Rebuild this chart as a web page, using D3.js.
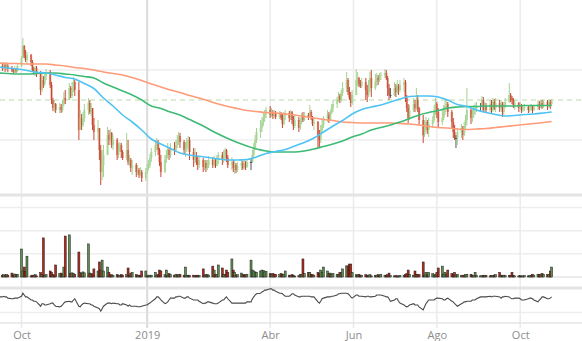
<!DOCTYPE html>
<html>
<head>
<meta charset="utf-8">
<script src="https://cdn.jsdelivr.net/npm/d3@7"></script>
<style>
  body { margin: 0; background: #fff; }
  svg { display: block; font-family: "Open Sans", "DejaVu Sans", sans-serif; }
</style>
</head>
<body>
<svg id="chart" width="582" height="341"></svg>
<script>
/*******************
 * DATA
 *******************/

// first session, one value per trading day after it (weekdays)
var firstDay = new Date(2018, 8, 14);
var firstOpen = 18.2;

var closes = [
  18.4,
  18.3, 18.5, 18.2, 18.4, 18.2,
  18.0, 17.8, 18.1, 17.9, 18.4,
  19.2, 20.4, 19.5, 19.0, 19.5,
  18.8, 18.0, 17.8, 18.2, 17.7,
  16.0, 17.0, 16.6, 17.4, 17.8,
  16.5, 15.0, 14.2, 14.6, 14.0,
  14.3, 14.0, 14.6, 15.2, 15.0,
  16.2, 15.4, 16.0, 16.8, 16.0,
  12.0, 13.2, 12.5, 13.2, 14.0,
  14.7, 13.8, 14.2, 12.5, 11.8,
  12.2, 10.0, 7.8, 8.5, 9.5,
  11.5, 11.0, 11.7, 10.5, 11.0,
  9.5, 10.0, 10.5, 9.8, 9.2,
  10.0, 8.8, 9.0, 8.2, 8.5,
  7.8, 8.0, 7.5, 7.8, 7.2,
  7.8, 8.2, 8.5, 9.2, 9.8,
  10.5, 10.8, 10.0, 8.8, 7.8,
  9.0, 9.5, 10.0, 9.5, 10.2,
  10.0, 10.5, 11.0, 11.4, 10.8,
  10.0, 10.2, 10.8, 11.0, 9.8,
  9.0, 9.5, 8.8, 8.5, 9.0,
  8.3, 8.7, 8.2, 8.5, 9.0,
  8.5, 9.0, 8.4, 9.0, 9.5,
  9.0, 9.5, 10.0, 9.2, 8.5,
  8.8, 8.2, 8.5, 8.0, 8.4,
  8.7, 8.2, 8.6, 8.3, 8.8,
  8.8, 9.5, 10.2, 11.0, 11.8,
  12.2, 12.8, 13.2, 13.6, 14.0,
  13.5, 13.8, 13.4, 13.7, 13.3,
  13.6, 13.2, 12.6, 13.4, 13.7,
  13.2, 13.8, 13.0, 12.4, 13.0,
  12.2, 12.8, 13.4, 13.0, 13.5,
  13.2, 13.8, 13.2, 12.6, 12.8,
  11.5, 11.0, 12.0, 12.5, 13.2,
  13.5, 13.0, 13.7, 14.2, 14.6,
  15.0, 15.4, 15.0, 15.7, 16.2,
  17.0, 15.8, 15.2, 14.7, 15.5,
  17.0, 17.2, 16.6, 16.4, 16.8,
  16.0, 15.5, 16.5, 17.2, 16.2,
  16.8, 17.2, 17.0, 17.4, 17.5,
  17.7, 17.2, 16.2, 15.5, 15.5,
  16.2, 15.8, 16.4, 16.0, 16.5,
  16.8, 15.2, 14.2, 13.2, 14.0,
  14.6, 14.2, 15.0, 14.2, 13.0,
  11.5, 12.2, 12.8, 12.0, 12.6,
  13.0, 13.8, 14.6, 13.8, 12.8,
  13.2, 13.8, 14.4, 14.6, 13.8,
  12.8, 11.8, 11.2, 11.2, 11.8,
  12.2, 11.5, 12.4, 13.0, 14.0,
  13.2, 13.6, 14.0, 14.2, 14.4,
  14.4, 15.0, 14.0, 14.4, 14.0,
  14.6, 14.0, 14.8, 14.2, 14.7,
  14.2, 14.6, 13.8, 14.4, 14.8,
  15.5, 15.2, 15.0, 14.5, 14.7,
  14.2, 14.5, 14.0, 14.2, 14.3,
  14.0, 14.2, 14.4, 14.0, 14.3,
  14.6, 14.2, 14.7, 14.4, 14.8,
  14.4, 14.8, 14.6, 14.9
];

var highs = [
  18.8,
  18.7, 18.8, 18.6, 18.8, 18.6,
  18.4, 18.2, 18.4, 18.2, 18.7,
  19.4, 21.2, 20.5, 20.0, 19.8,
  19.6, 19.0, 18.3, 18.4, 18.4,
  17.9, 17.6, 17.4, 17.8, 18.1,
  18.0, 16.8, 15.2, 15.0, 14.7,
  14.7, 14.6, 15.0, 15.8, 16.0,
  16.7, 16.4, 16.8, 17.3, 17.0,
  16.8, 14.0, 13.6, 13.8, 14.6,
  15.2, 15.0, 14.7, 14.0, 13.2,
  13.0, 12.2, 10.5, 10.0, 10.5,
  12.3, 12.0, 12.1, 11.8, 11.5,
  11.2, 10.7, 10.8, 10.7, 10.0,
  11.7, 11.0, 9.5, 9.2, 9.0,
  8.7, 8.5, 8.2, 8.3, 8.0,
  8.2, 8.6, 9.0, 9.6, 10.2,
  11.0, 11.2, 11.0, 10.2, 9.5,
  9.5, 10.0, 10.7, 10.3, 10.7,
  10.8, 11.0, 11.5, 11.8, 11.7,
  11.0, 10.8, 11.2, 11.4, 11.3,
  10.2, 10.2, 9.8, 9.3, 9.4,
  9.2, 9.0, 9.0, 9.0, 9.4,
  9.3, 9.4, 9.2, 9.5, 9.8,
  9.8, 10.0, 10.2, 10.1, 9.5,
  9.3, 9.0, 9.0, 8.7, 8.8,
  9.0, 8.9, 9.0, 8.9, 9.1,
  9.2, 10.0, 10.7, 11.5, 12.2,
  13.0, 13.3, 13.7, 14.0, 14.3,
  14.4, 14.2, 14.0, 14.0, 13.9,
  13.9, 13.8, 13.6, 13.8, 14.0,
  13.9, 14.0, 13.9, 13.4, 13.5,
  13.3, 13.2, 13.7, 13.8, 13.8,
  13.7, 14.5, 14.0, 13.4, 13.3,
  12.9, 12.0, 12.5, 13.0, 13.4,
  14.0, 13.8, 14.0, 14.6, 15.0,
  15.3, 15.8, 15.6, 16.0, 16.8,
  17.8, 17.2, 16.3, 15.8, 16.0,
  18.1, 17.8, 17.3, 17.0, 17.2,
  17.2, 16.5, 17.0, 17.8, 18.0,
  17.6, 17.7, 17.5, 17.7, 17.8,
  18.1, 18.0, 17.4, 16.6, 16.2,
  16.8, 16.6, 17.0, 16.6, 17.0,
  17.2, 17.0, 15.5, 14.6, 14.5,
  15.2, 15.0, 16.2, 15.5, 14.3,
  13.5, 13.0, 13.3, 13.0, 13.2,
  13.4, 14.5, 15.2, 14.8, 14.2,
  14.0, 14.5, 15.0, 15.0, 14.8,
  14.0, 13.2, 12.5, 11.5, 12.2,
  12.6, 12.4, 12.8, 13.5, 16.2,
  14.2, 14.2, 14.5, 14.7, 14.8,
  14.7, 15.4, 15.3, 14.8, 14.7,
  15.0, 15.0, 15.2, 15.1, 15.2,
  15.0, 15.0, 14.8, 14.8, 15.2,
  16.7, 15.7, 15.4, 15.2, 15.0,
  14.8, 14.8, 14.6, 14.5, 14.6,
  14.5, 14.5, 14.6, 14.5, 14.5,
  15.0, 14.9, 15.0, 15.0, 15.0,
  15.0, 15.1, 15.0, 15.1
];

var lows = [
  18.0,
  17.9, 18.0, 17.8, 18.0, 17.8,
  17.8, 17.6, 17.7, 17.7, 17.8,
  18.3, 19.2, 19.2, 18.8, 18.6,
  18.4, 17.8, 17.5, 17.4, 17.3,
  15.5, 15.8, 16.2, 16.4, 17.0,
  16.2, 14.6, 13.9, 13.8, 13.7,
  13.7, 13.7, 13.8, 14.4, 14.6,
  15.0, 15.2, 15.2, 15.8, 15.4,
  11.0, 12.2, 12.0, 12.3, 12.8,
  13.5, 13.6, 13.4, 12.0, 11.0,
  11.0, 9.0, 6.5, 7.0, 7.3,
  9.5, 10.5, 10.8, 10.2, 10.0,
  9.0, 9.2, 9.8, 9.2, 9.0,
  9.0, 8.5, 8.4, 7.8, 7.5,
  7.3, 7.5, 7.2, 7.4, 6.8,
  6.9, 7.6, 8.0, 8.2, 8.8,
  9.4, 10.0, 9.5, 8.4, 7.3,
  7.7, 8.7, 9.2, 9.0, 9.2,
  9.5, 9.8, 10.2, 10.5, 10.2,
  9.5, 9.3, 9.8, 10.0, 9.0,
  8.3, 8.7, 8.5, 8.0, 8.2,
  7.8, 8.0, 7.8, 8.0, 8.2,
  8.2, 8.3, 8.2, 8.4, 8.6,
  8.5, 8.7, 9.0, 8.8, 8.2,
  8.0, 7.8, 7.6, 7.7, 7.8,
  8.0, 8.0, 8.1, 8.0, 8.2,
  8.0, 8.7, 9.2, 10.0, 10.7,
  11.2, 11.8, 12.4, 12.8, 13.2,
  13.2, 13.3, 13.1, 13.2, 13.1,
  13.1, 13.0, 12.2, 12.5, 13.0,
  12.8, 13.0, 12.6, 12.0, 12.2,
  11.8, 12.0, 12.6, 12.8, 12.9,
  13.0, 13.2, 13.0, 12.4, 12.0,
  10.3, 10.3, 10.7, 11.7, 12.2,
  12.8, 12.7, 12.9, 13.6, 13.8,
  14.2, 14.8, 14.7, 14.8, 15.4,
  15.8, 15.5, 15.0, 14.3, 14.5,
  15.5, 16.4, 16.3, 16.2, 16.2,
  15.0, 14.8, 15.3, 15.8, 15.3,
  16.0, 16.4, 16.5, 16.8, 17.0,
  17.2, 17.0, 15.4, 15.0, 15.2,
  15.4, 15.3, 15.6, 15.5, 15.8,
  15.8, 14.8, 13.8, 12.7, 13.0,
  13.8, 13.8, 14.0, 13.8, 12.5,
  10.7, 11.3, 11.8, 11.6, 11.3,
  12.2, 12.8, 13.5, 13.2, 12.3,
  12.5, 13.0, 13.5, 14.0, 13.3,
  12.2, 11.2, 11.0, 10.2, 10.5,
  11.2, 11.0, 11.4, 12.0, 12.5,
  12.6, 12.8, 13.2, 13.5, 13.8,
  13.8, 14.6, 13.8, 13.8, 13.7,
  13.8, 13.7, 13.8, 14.0, 13.8,
  13.8, 14.0, 13.3, 13.5, 14.2,
  14.7, 14.8, 14.6, 14.2, 14.0,
  13.8, 14.0, 13.7, 13.8, 13.9,
  13.7, 13.8, 13.9, 13.7, 13.9,
  14.0, 14.0, 14.2, 14.1, 14.2,
  14.0, 14.2, 14.1, 14.4
];

// millions of shares
var volumes = [
  0.43,
  0.08, 0.1, 0.06, 0.12, 0.08,
  0.17, 0.06, 0.13, 0.1, 0.12,
  1.21, 0.26, 0.43, 0.25, 0.9,
  0.05, 0.08, 0.06, 0.1, 0.05,
  0.2, 0.1, 1.69, 0.08, 0.1,
  0.26, 0.2, 0.1, 0.08, 0.52,
  0.15, 0.17, 0.1, 0.43, 1.77,
  1.82, 0.15, 0.18, 0.15, 0.1,
  1.08, 0.2, 0.15, 0.22, 0.18,
  1.43, 0.17, 0.15, 0.12, 0.35,
  0.26, 0.65, 0.3, 0.73, 0.26,
  0.43, 0.2, 0.08, 0.1, 0.06,
  0.1, 0.08, 0.06, 0.1, 0.08,
  0.1, 0.39, 0.06, 0.17, 0.2,
  0.1, 0.06, 0.08, 0.08, 0.26,
  0.26, 0.04, 0.08, 0.06, 0.08,
  0.2, 0.08, 0.1, 0.3, 0.26,
  0.1, 0.3, 0.08, 0.15, 0.1,
  0.08, 0.12, 0.06, 0.1, 0.12,
  0.08, 0.43, 0.06, 0.08, 0.06,
  0.08, 0.06, 0.06, 0.08, 0.06,
  0.35, 0.08, 0.1, 0.1, 0.08,
  0.47, 0.3, 0.1, 0.12, 0.52,
  0.39, 0.1, 0.12, 0.3, 0.2,
  0.78, 0.3, 0.2, 0.08, 0.1,
  0.17, 0.1, 0.08, 0.1, 0.12,
  0.73, 0.3, 0.26, 0.22, 0.2,
  0.26, 0.3, 0.28, 0.22, 0.25,
  0.15, 0.12, 0.15, 0.1, 0.12,
  0.1, 0.15, 0.1, 0.12, 0.26,
  0.08, 0.06, 0.1, 0.08, 0.04,
  0.06, 0.1, 0.12, 0.78, 0.15,
  0.2, 0.2, 0.12, 0.1, 0.08,
  0.2, 0.15, 0.3, 0.2, 0.43,
  0.26, 0.15, 0.17, 0.12, 0.15,
  0.12, 0.1, 0.2, 0.2, 0.35,
  0.48, 0.48, 0.56, 0.56, 0.2,
  0.1, 0.08, 0.12, 0.06, 0.08,
  0.1, 0.06, 0.08, 0.1, 0.05,
  0.06, 0.08, 0.1, 0.06, 0.12,
  0.08, 0.06, 0.1, 0.17, 0.06,
  0.05, 0.06, 0.04, 0.05, 0.06,
  0.08, 0.1, 0.15, 0.3, 0.12,
  0.08, 0.26, 0.1, 0.12, 0.1,
  0.65, 0.08, 0.2, 0.1, 0.2,
  0.15, 0.08, 0.1, 0.2, 0.39,
  0.47, 0.12, 0.2, 0.1, 0.3,
  0.15, 0.12, 0.2, 0.08, 0.12,
  0.06, 0.08, 0.06, 0.1, 0.12,
  0.12, 0.06, 0.08, 0.2, 0.06,
  0.05, 0.06, 0.05, 0.08, 0.06,
  0.05, 0.06, 0.06, 0.08, 0.1,
  0.2, 0.08, 0.06, 0.08, 0.06,
  0.06, 0.08, 0.2, 0.06, 0.05,
  0.05, 0.06, 0.04, 0.05, 0.06,
  0.05, 0.06, 0.08, 0.12, 0.08,
  0.12, 0.1, 0.12, 0.15, 0.12,
  0.1, 0.12, 0.26, 0.43
];

// oscillator, 0-100
var oscillator = [
  55,
  55, 56, 55, 55, 53,
  52, 52, 53, 53, 53,
  56, 61, 58, 55, 55,
  50, 50, 48, 48, 47,
  40, 44, 44, 42, 42,
  44, 45, 45, 42, 40,
  39, 40, 42, 45, 47,
  48, 47, 47, 50, 52,
  40, 39, 42, 44, 45,
  44, 44, 42, 42, 40,
  37, 36, 32, 36, 40,
  45, 45, 45, 44, 45,
  44, 44, 42, 42, 44,
  42, 40, 42, 40, 40,
  40, 39, 39, 39, 40,
  42, 42, 44, 45, 47,
  52, 55, 55, 53, 50,
  44, 45, 47, 50, 53,
  53, 55, 55, 56, 56,
  53, 53, 55, 55, 53,
  50, 50, 50, 50, 48,
  44, 45, 45, 47, 47,
  45, 44, 44, 44, 45,
  50, 50, 53, 55, 52,
  45, 45, 45, 45, 45,
  45, 45, 45, 45, 47,
  47, 52, 55, 58, 60,
  61, 63, 64, 66, 66,
  68, 68, 66, 66, 64,
  61, 61, 60, 58, 56,
  56, 58, 60, 60, 58,
  55, 55, 56, 56, 56,
  56, 56, 55, 55, 55,
  47, 45, 48, 52, 53,
  55, 55, 55, 56, 56,
  58, 60, 60, 61, 61,
  61, 60, 58, 55, 53,
  58, 58, 56, 56, 56,
  55, 56, 56, 55, 55,
  56, 58, 58, 58, 58,
  56, 55, 55, 52, 48,
  50, 52, 52, 48, 45,
  42, 40, 39, 40, 42,
  44, 42, 42, 42, 39,
  34, 39, 44, 47, 50,
  50, 50, 52, 53, 53,
  52, 50, 50, 52, 53,
  48, 47, 44, 42, 40,
  44, 45, 47, 47, 48,
  48, 50, 50, 50, 52,
  55, 55, 55, 55, 55,
  56, 55, 56, 56, 56,
  55, 53, 55, 55, 56,
  55, 53, 52, 52, 53,
  53, 52, 50, 50, 50,
  52, 53, 53, 52, 50,
  47, 50, 52, 55, 55,
  52, 52, 53, 55
];

// moving averages, read every 5th session (plus the last one)
var maFast = [
  18.3, 18.2, 18.1, 17.95, 17.77, 17.7, 17.5, 17.25, 17.1, 16.65,
  16.15, 15.2, 14.4, 13.5, 12.8, 12.0, 11.1, 10.6, 10.15, 9.7,
  9.5, 9.37, 9.25, 9.1, 9.0, 9.0, 9.05, 9.3, 9.65, 9.85,
  10.05, 10.4, 10.75, 11.2, 11.8, 12.4, 12.95, 13.6, 14.05, 14.3,
  14.5, 14.8, 15.1, 15.35, 15.4, 15.4, 15.3, 15.0, 14.55, 14.35,
  14.0, 13.75, 13.55, 13.4, 13.45, 13.55, 13.6, 13.7, 13.8
];
var maMid = [
  17.7, 17.65, 17.6, 17.6, 17.65, 17.7, 17.7, 17.6, 17.5, 17.35,
  17.2, 16.7, 16.3, 15.9, 15.5, 15.0, 14.4, 14.15, 13.8, 13.5,
  13.05, 12.6, 12.1, 11.6, 11.15, 10.75, 10.4, 10.1, 9.9, 9.8,
  9.8, 9.8, 9.9, 10.1, 10.35, 10.6, 10.9, 11.3, 11.6, 12.0,
  12.25, 12.5, 12.8, 13.15, 13.5, 13.75, 13.95, 14.2, 14.3, 14.35,
  14.35, 14.4, 14.4, 14.4, 14.4, 14.45, 14.45, 14.45, 14.45
];
var maSlow = [
  18.7, 18.65, 18.65, 18.6, 18.6, 18.6, 18.5, 18.4, 18.25, 18.15,
  18.0, 17.8, 17.65, 17.5, 17.25, 16.95, 16.6, 16.3, 16.0, 15.75,
  15.45, 15.2, 14.9, 14.6, 14.35, 14.15, 13.95, 13.85, 13.75, 13.7,
  13.6, 13.5, 13.35, 13.2, 13.05, 12.95, 12.8, 12.75, 12.7, 12.7,
  12.7, 12.7, 12.65, 12.6, 12.5, 12.35, 12.25, 12.2, 12.1, 12.05,
  12.1, 12.15, 12.25, 12.35, 12.45, 12.55, 12.65, 12.75, 12.85
];

var lastPriceLine = 15.0;

var tickDates = [new Date(2018, 9, 1), new Date(2019, 0, 1), new Date(2019, 3, 1),
                 new Date(2019, 5, 1), new Date(2019, 7, 1), new Date(2019, 9, 1)];
var tickLabels = ['Oct', '2019', 'Abr', 'Jun', 'Ago', 'Oct'];
var priceGrid = [11, 18];
var volumeGrid = [1, 2, 3];
var oscGrid = [30];

/*******************
 * LAYOUT
 *******************/

var W = 582;
var PRICE = {top: 0, bottom: 195};
var VOL = {top: 196, bottom: 277};
var OSC = {top: 289, bottom: 323};

var COLOR = {
  up: '#a3d291',
  upBody: '#bfe2b1',
  down: '#c9452f',
  downBody: '#e49a86',
  flat: '#555',
  volUp: '#5e8f4d',
  volDown: '#b3281a',
  fast: '#4fc3f2',
  mid: '#3dba74',
  slow: '#ff9b78',
  grid: '#eeeeee',
  sep: '#e4e4e4'
};

/*******************
 * HELPERS
 *******************/

function tradingDays(start, n) {
  var out = [], d = new Date(start);
  while (out.length < n) {
    if (d.getDay() !== 0 && d.getDay() !== 6) out.push(new Date(d));
    d.setDate(d.getDate() + 1);
  }
  return out;
}

var dates = tradingDays(firstDay, closes.length);
var maIdx = d3.range(0, 286, 5).concat([closes.length - 1]);

var candles = dates.map(function (d, i) {
  var o = i === 0 ? firstOpen : closes[i - 1];
  var c = closes[i];
  return {
    date: d,
    open: o,
    close: c,
    high: Math.max(highs[i], o, c),
    low: Math.min(lows[i], o, c),
    volume: volumes[i],
    osc: oscillator[i],
    dir: c > o ? 1 : (c < o ? -1 : 0)
  };
});

/*******************
 * SCALES
 *******************/

var x = d3.scaleTime()
  .domain([new Date(2018, 9, 1), new Date(2019, 9, 1)])
  .range([21.5, 520.2]);

var yP = d3.scaleLinear().domain([5.5, 25]).range([PRICE.bottom, PRICE.top]);
var yV = d3.scaleLinear().domain([0, 3.5]).range([VOL.bottom, VOL.top]);
var yO = d3.scaleLinear().domain([0, 100]).range([331, 269]);

var svg = d3.select('#chart');

/*******************
 * GRID
 *******************/

var grid = svg.append('g');

priceGrid.forEach(function (v) {
  grid.append('line').attr('x1', 0).attr('x2', W)
    .attr('y1', yP(v)).attr('y2', yP(v))
    .attr('stroke', COLOR.grid).attr('stroke-width', 1.5);
});
volumeGrid.forEach(function (v) {
  grid.append('line').attr('x1', 0).attr('x2', W)
    .attr('y1', yV(v)).attr('y2', yV(v))
    .attr('stroke', COLOR.grid).attr('stroke-width', 1.5);
});
oscGrid.forEach(function (v) {
  grid.append('line').attr('x1', 0).attr('x2', W)
    .attr('y1', yO(v)).attr('y2', yO(v))
    .attr('stroke', COLOR.grid).attr('stroke-width', 1.5);
});

tickDates.forEach(function (d, i) {
  grid.append('line')
    .attr('x1', x(d)).attr('x2', x(d))
    .attr('y1', 0).attr('y2', 328)
    .attr('stroke', tickLabels[i] === '2019' ? '#dadada' : '#ebebeb')
    .attr('stroke-width', tickLabels[i] === '2019' ? 2 : 1.5);
});

// panel separators
[PRICE.bottom, OSC.top - 1].forEach(function (y) {
  grid.append('line').attr('x1', 0).attr('x2', W).attr('y1', y).attr('y2', y)
    .attr('stroke', COLOR.sep).attr('stroke-width', 3);
});

// bottom axis
var axis = svg.append('g')
  .attr('transform', 'translate(0,' + OSC.bottom + ')')
  .call(d3.axisBottom(x).tickValues(tickDates)
    .tickFormat(function (d, i) { return tickLabels[i]; })
    .tickSize(0).tickPadding(8));
axis.select('.domain').attr('stroke', '#e6e6e6').attr('stroke-width', 1.5)
  .attr('d', 'M0,0H' + W);
axis.selectAll('text').attr('fill', '#8c8c8c').attr('font-size', 11)
  .attr('font-family', '"Open Sans", sans-serif');

/*******************
 * PRICE PANEL
 *******************/

svg.append('clipPath').attr('id', 'clipPrice')
  .append('rect').attr('x', 0).attr('y', 0).attr('width', W).attr('height', PRICE.bottom - 2);

var price = svg.append('g').attr('clip-path', 'url(#clipPrice)');

price.append('line')
  .attr('x1', 0).attr('x2', W)
  .attr('y1', yP(lastPriceLine)).attr('y2', yP(lastPriceLine))
  .attr('stroke', '#b9dca8').attr('stroke-width', 1.2)
  .attr('stroke-dasharray', '5,4');

function bodyColor(d) { return d.dir > 0 ? COLOR.upBody : (d.dir < 0 ? COLOR.downBody : COLOR.flat); }
function wickColor(d) { return d.dir > 0 ? COLOR.up : (d.dir < 0 ? COLOR.down : COLOR.flat); }

price.selectAll('rect.body').data(candles).enter().append('rect')
  .attr('class', 'body')
  .attr('x', function (d) { return x(d.date) - 1.1; })
  .attr('width', 2.2)
  .attr('y', function (d) { return yP(Math.max(d.open, d.close)); })
  .attr('height', function (d) { return Math.max(1, Math.abs(yP(d.open) - yP(d.close))); })
  .attr('fill', bodyColor);

price.selectAll('line.wick').data(candles).enter().append('line')
  .attr('class', 'wick')
  .attr('x1', function (d) { return x(d.date); })
  .attr('x2', function (d) { return x(d.date); })
  .attr('y1', function (d) { return yP(d.high); })
  .attr('y2', function (d) { return yP(d.low); })
  .attr('stroke', wickColor)
  .attr('stroke-width', 1);

function maLine(values) {
  return d3.line()
    .x(function (v, k) { return x(dates[maIdx[k]]); })
    .y(function (v) { return yP(v); })
    .curve(d3.curveMonotoneX)(values);
}

[[maSlow, COLOR.slow], [maMid, COLOR.mid], [maFast, COLOR.fast]].forEach(function (m) {
  price.append('path')
    .attr('d', maLine(m[0]))
    .attr('fill', 'none')
    .attr('stroke', m[1])
    .attr('stroke-width', 1.6);
});

/*******************
 * VOLUME PANEL
 *******************/

svg.append('line').attr('x1', 0).attr('x2', W)
  .attr('y1', VOL.bottom).attr('y2', VOL.bottom)
  .attr('stroke', '#d8d8d8').attr('stroke-width', 1);

svg.append('g').selectAll('rect').data(candles).enter().append('rect')
  .attr('x', function (d) { return x(d.date) - 1; })
  .attr('width', 2)
  .attr('y', function (d) { return yV(d.volume); })
  .attr('height', function (d) { return VOL.bottom - yV(d.volume); })
  .attr('fill', function (d) { return d.dir < 0 ? COLOR.volDown : COLOR.volUp; })
  .attr('stroke', '#1e1e1e')
  .attr('stroke-width', 0.5);

/*******************
 * OSCILLATOR PANEL
 *******************/

svg.append('path')
  .datum(candles)
  .attr('d', d3.line()
    .x(function (d) { return x(d.date); })
    .y(function (d) { return yO(d.osc); }))
  .attr('fill', 'none')
  .attr('stroke', '#4a4a4a')
  .attr('stroke-width', 1.1);
</script>
</body>
</html>
